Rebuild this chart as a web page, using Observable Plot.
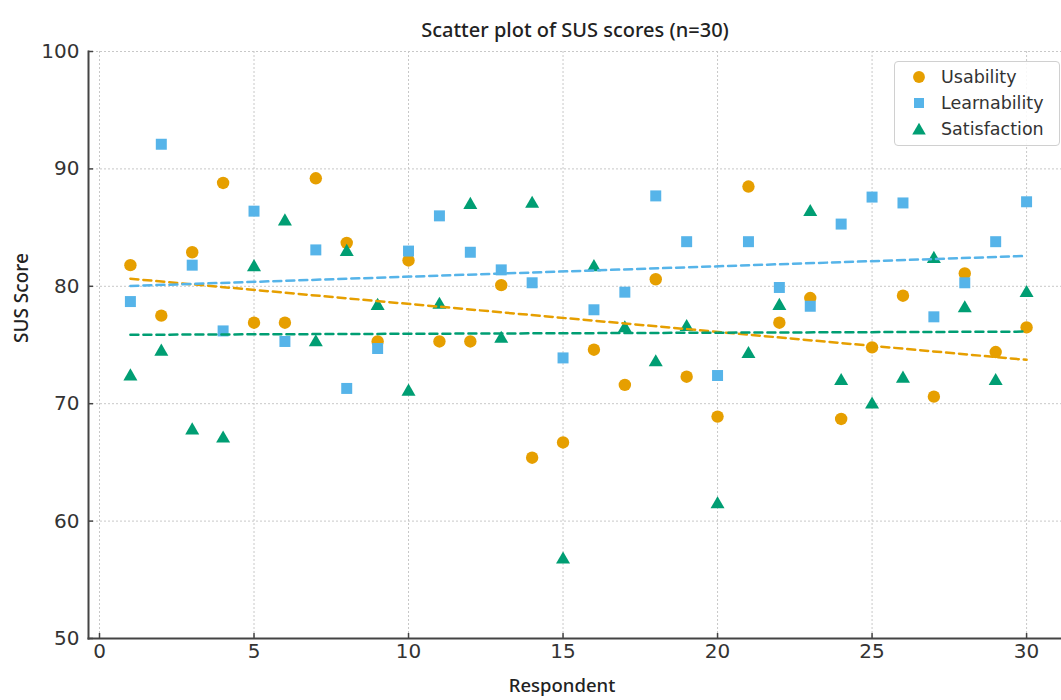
<!DOCTYPE html>
<html>
<head>
<meta charset="utf-8">
<script src="https://cdn.jsdelivr.net/npm/d3@7"></script>
<script src="https://cdn.jsdelivr.net/npm/@observablehq/plot@0.6"></script>
<style>
  html, body { margin: 0; padding: 0; background: #fff; }
  #wrap { position: relative; width: 1061px; height: 700px; overflow: hidden; }
  #legend {
    position: absolute; left: 894px; top: 61px; width: 166px; height: 85px;
    border: 1px solid #d0d0d0; border-radius: 4px; background: rgba(255,255,255,0.85);
    font-family: "DejaVu Sans", sans-serif; font-size: 17.5px; color: #333;
    box-sizing: border-box;
  }
  .row { position: absolute; left: 0; height: 26px; display: flex; align-items: center; }
  .row svg { margin-left: 17px; margin-right: 15px; }
</style>
</head>
<body>
<div id="wrap">
  <div id="chart"></div>
  <div id="legend"></div>
</div>
<script>
// ---- data ----
const respondents = [1,2,3,4,5,6,7,8,9,10,11,12,13,14,15,16,17,18,19,20,21,22,23,24,25,26,27,28,29,30];
const usability    = [81.8,77.5,82.9,88.8,76.9,76.9,89.2,83.7,75.3,82.2,75.3,75.3,80.1,65.4,66.7,74.6,71.6,80.6,72.3,68.9,88.5,76.9,79.0,68.7,74.8,79.2,70.6,81.1,74.4,76.5];
const learnability = [78.7,92.1,81.8,76.2,86.4,75.3,83.1,71.3,74.7,83.0,86.0,82.9,81.4,80.3,73.9,78.0,79.5,87.7,83.8,72.4,83.8,79.9,78.3,85.3,87.6,87.1,77.4,80.3,83.8,87.2];
const satisfaction = [72.5,74.6,67.9,67.2,81.8,85.7,75.4,83.1,78.5,71.2,78.6,87.1,75.7,87.2,56.9,81.8,76.6,73.7,76.7,61.6,74.4,78.5,86.5,72.1,70.1,72.3,82.5,78.3,72.1,79.6];
const seriesNames  = ["Usability", "Learnability", "Satisfaction"];
const seriesColors = ["#E69F00", "#56B4E9", "#009E73"];
const seriesSymbols = ["circle", "square", "triangle"];
const xTicks = [0,5,10,15,20,25,30];
const yTicks = [50,60,70,80,90,100];
const titleText = "Scatter plot of SUS scores (n=30)";
const xLabel = "Respondent";
const yLabel = "SUS Score";

const toRows = (vals) => respondents.map((r, i) => ({r, v: vals[i]}));
const U = toRows(usability), L = toRows(learnability), S = toRows(satisfaction);

const W = 1061, H = 700, mL = 88, mR = 0, mT = 51, mB = 62;
const frameW = W - mL - mR, frameH = H - mT - mB;
const gridStyle = {stroke: "#c8c8c8", strokeOpacity: 1, strokeWidth: 1, strokeDasharray: "2,2"};
const dash = {strokeWidth: 2.5, strokeDasharray: "8,5"};
const labelFont = {fontFamily: "Noto Sans, sans-serif", fill: "#222", fontWeight: 500};

const chart = Plot.plot({
  width: W, height: H,
  marginLeft: mL, marginRight: mR, marginTop: mT, marginBottom: mB,
  x: {domain: [-0.356, 31.13]},
  y: {domain: [50, 100]},
  style: {fontFamily: "DejaVu Sans, sans-serif", fontSize: "20px", color: "#333", background: "white", overflow: "visible"},
  marks: [
    Plot.gridX(xTicks, gridStyle),
    Plot.gridY(yTicks, gridStyle),
    Plot.axisX(xTicks, {tickSize: 0, tickPadding: 5, label: null, fontSize: 20, fill: "#333"}),
    Plot.axisY(yTicks, {tickSize: 0, tickPadding: 9, label: null, fontSize: 20, fill: "#333"}),
    Plot.tickY(yTicks, {y: d => d, stroke: "#444", strokeWidth: 1.5, insetRight: frameW - 5}),
    Plot.tickX(xTicks, {x: d => d, stroke: "#444", strokeWidth: 1.5, insetTop: frameH - 5}),
    Plot.frame({anchor: "left", stroke: "#444", strokeWidth: 2}),
    Plot.frame({anchor: "bottom", stroke: "#444", strokeWidth: 2}),
    Plot.dot(U, {x: "r", y: "v", symbol: () => seriesSymbols[0], fill: seriesColors[0], r: 6.2}),
    Plot.dot(L, {x: "r", y: "v", symbol: () => seriesSymbols[1], fill: seriesColors[1], r: 6.2}),
    Plot.dot(S, {x: "r", y: "v", symbol: () => seriesSymbols[2], fill: seriesColors[2], r: 5.2, dy: 2}),
    Plot.linearRegressionY(U, {x: "r", y: "v", ci: 0, stroke: seriesColors[0], ...dash}),
    Plot.linearRegressionY(L, {x: "r", y: "v", ci: 0, stroke: seriesColors[1], ...dash}),
    Plot.linearRegressionY(S, {x: "r", y: "v", ci: 0, stroke: seriesColors[2], ...dash}),
    Plot.text([titleText], {frameAnchor: "top", dy: -29, dx: 0, fontSize: 20, ...labelFont}),
    Plot.text([xLabel], {frameAnchor: "bottom", dy: 53, dx: -13, fontSize: 18.5, ...labelFont}),
    Plot.text([yLabel], {frameAnchor: "left", dx: -67, dy: -2, rotate: -90, fontSize: 19, ...labelFont})
  ]
});
document.getElementById("chart").appendChild(chart);

// ---- legend ----
const legend = document.getElementById("legend");
seriesNames.forEach((name, i) => {
  const row = document.createElement("div");
  row.className = "row";
  row.style.top = (2 + i * 26) + "px";
  const sym = d3.symbol().type([d3.symbolCircle, d3.symbolSquare, d3.symbolTriangle][i]).size([110, 100, 80][i])();
  row.innerHTML = `<svg width="14" height="14" viewBox="-7 -7 14 14"><path d="${sym}" fill="${seriesColors[i]}" transform="translate(0,${i === 2 ? 1.5 : 0})"/></svg><span>${name}</span>`;
  legend.appendChild(row);
});
</script>
</body>
</html>
